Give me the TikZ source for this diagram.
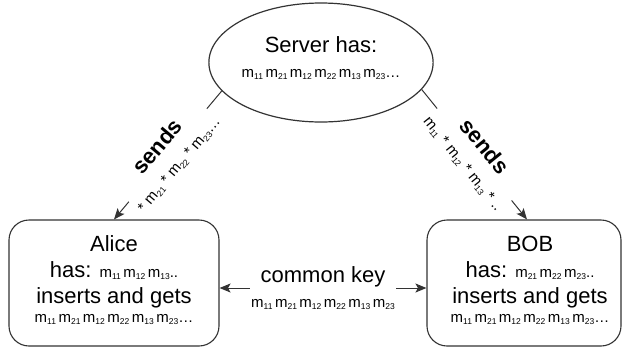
\documentclass[tikz,border=0pt]{standalone}
\usepackage{fontspec}
\setmainfont{Liberation Sans}
\usetikzlibrary{shapes.geometric,arrows.meta,calc}

\newcommand\mfont{\fontsize{15}{15}\selectfont}
\newcommand\mm[1]{m\raisebox{-2.5pt}{\fontsize{8.5}{8.5}\selectfont #1}}
\newcommand\mgap{\hspace{2.5pt}}
\newcommand\mseq{{\mfont\mm{11}\mgap\mm{21}\mgap\mm{12}\mgap\mm{22}\mgap\mm{13}\mgap\mm{23}}}

\begin{document}
\begin{tikzpicture}[x=1pt,y=-1pt,line width=1pt,
  big/.style={font=\fontsize{22}{26}\selectfont},
  tip/.tip={Stealth[length=11pt,width=9pt,inset=2.5pt]},
  conn/.style={draw=black!80,-tip},
  box/.style={draw=black!80,line width=1.1pt,rounded corners=20pt,minimum height=126pt,align=center,big,inner sep=0pt},
  lab/.style={fill=white,align=center,big,inner sep=1pt}]
\useasboundingbox (0,0) rectangle (622,349);

\node[ellipse,draw=black!80,line width=1.2pt,minimum width=208pt,minimum height=119pt,align=center,big,inner sep=0pt]
  (server) at (321,62.5) {Server has:\\[-1pt]{\mseq{\mfont\ldots}}\rule[-11pt]{0pt}{1pt}};

\node[box,minimum width=210pt] (alice) at (114,283)
  {Alice\\has: {\mfont\mm{11}\mgap\mm{12}\mgap\mm{13}..}\\inserts and gets\\[-7pt]{\mseq{\mfont\ldots}}\rule[-8pt]{0pt}{1pt}};

\node[box,minimum width=194pt] (bob) at (524,283)
  {\hspace*{12pt}BOB\\\hspace*{12pt}has: {\mfont\mm{21}\mgap\mm{22}\mgap\mm{23}..}\\\hspace*{12pt}inserts and gets\\[-7pt]\hspace*{12pt}{\mseq{\mfont\ldots}}\rule[-8pt]{0pt}{1pt}};

\draw[conn] (server.196) -- node[lab,sloped] (sendA)
  {\textbf{sends}\\[-1pt]{\mfont * \mm{21} * \mm{22} * \mm{23}\ldots}} (alice.north);

\draw[conn] (server.345) -- node[lab,sloped] (sendB)
  {\textbf{sends}\\[-1pt]{\mfont\mm{11} * \mm{12} * \mm{13} * ..}} ([xshift=3pt]bob.north);

\draw[conn,tip-tip]
  ([yshift=-5pt]alice.east) -- node[lab] (key) {common key\\[-1pt]\mseq} ([yshift=-5pt]bob.west);
\end{tikzpicture}
\end{document}
